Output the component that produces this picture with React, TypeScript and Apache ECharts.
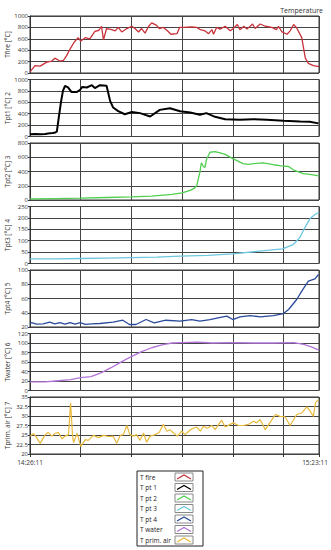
import React, { useEffect, useRef } from 'react';
import * as echarts from 'echarts';

// time in minutes after 14:26:11
const fireTime = [0,1,2,3.3,4.3,4.9,5.9,6.6,7.2,7.9,8.7,9.5,10,10.9,11.8,12.8,13.6,14.1,14.5,15.1,16.1,16.8,17.4,18.1,19.1,20.1,20.7,21.4,22,22.7,23.4,24,24.9,25.5,26.3,27,27.8,29,29.5,30.3,31.9,32.9,33.6,34.5,35.2,35.9,36.2,36.8,37.5,38.5,39.5,40.1,40.9,41.4,42.2,42.8,43.9,44.4,45.4,46.4,47.7,48.6,49,49.7,50.7,51.3,52,52.6,53.6,54.3,54.9,55.9,57];
const fireTemp = [20,130,120,190,210,260,210,220,300,420,540,620,560,620,600,730,750,820,580,780,760,740,800,720,780,820,780,720,780,700,820,880,840,780,800,750,680,690,800,800,810,800,760,740,690,760,680,800,770,820,740,780,850,760,820,770,860,780,860,820,800,760,820,720,680,740,850,790,620,260,170,130,110];

const pt1Time = [0,1,2,3,3.9,4.5,5,5.3,5.7,6.1,6.5,6.9,7.5,8.2,9.2,9.9,10.3,11.2,12.2,12.8,13.8,15.1,15.8,16.4,17.4,18.7,20.1,21.7,23.7,25.6,27.6,29.6,31.6,33.5,34.8,36.5,38.5,41.4,44,46.7,50,53.3,55.2,56.9];
const pt1Temp = [40,45,40,45,55,60,70,90,350,600,800,890,860,780,780,820,870,860,900,850,900,890,625,508,445,390,430,410,350,467,497,444,420,380,410,345,303,292,303,292,275,262,257,230];

const pt2Time = [0,5,10,15,20,24,28,30,31.6,32.5,32.9,33.5,33.8,34.2,34.5,34.8,35.5,36.5,37.5,38.5,40,42,43,44.6,46,48,49.6,51,52,53.9,55.5,57];
const pt2Temp = [15,20,25,35,45,55,80,100,136,170,205,387,523,470,455,568,670,680,660,640,580,510,500,515,520,495,480,470,420,370,355,340];

const pt3Time = [0,5,10,15,20,25,29.6,35,40,45.2,49.8,51.9,53.2,54.2,55.2,56.2,57];
const pt3Temp = [20,20,22,24,26,28,32,36,42,54,64,83,113,157,196,215,225];

const pt4Time = [0,0.3,1.3,2.6,3.9,4.9,5.9,6.9,7.9,8.9,9.9,10.9,12.2,13.8,16.4,18.3,19.6,20.9,22.9,24.5,26.8,29.6,31.9,33.5,35.5,37.1,38.8,40,41.4,43.4,45.4,48,50,51,52.6,53.6,54.9,56.2,56.9];
const pt4Temp = [25,26,24,24.5,27,24.5,26,24,26,24,26,23.6,24.5,24.9,26.7,29.5,23.5,23.5,30.5,25.9,29.5,28.2,30.5,28.2,30.5,32.9,35.2,30.5,34.3,36.1,34.3,36.1,38.9,44.6,58.6,70.3,84.3,87.6,93.7];

const waterTime = [0,3,5,8,10,12,14,16,17.5,19,20.5,22,24,26,28,30,33,36,40,44,48,52,54,55.5,57];
const waterTemp = [18,18,20,23,27,29,37,48,57,66,74,82,90,96,100,101,102,100,101,100,100,101,97,92,85];

const airTime = [0,0.7,1.3,2,3,3.6,4.3,4.9,5.6,6.3,6.9,7.6,8,8.4,8.6,9.3,10,10.9,11.5,12.5,13.5,14.5,15.5,16.4,17.1,17.8,18.4,19.1,19.7,20.4,21,21.7,22.4,23,23.7,24.7,25.5,26.3,27,27.6,28.4,29.1,29.9,30.6,31.3,31.9,32.9,33.6,34.2,34.9,35.9,36.5,37.2,37.8,38.5,39.5,40.1,41.1,42.1,43.1,44.1,44.7,45.4,46.4,47.4,48.4,49.3,50.3,51.3,52.6,53.6,54.6,55.3,55.9,56.3,56.9];
const airTemp = [24.7,25.4,24.3,22.8,25.1,25.7,24.7,25.4,25.7,24,24.7,25.1,33.5,24.7,23,25.5,22,23.8,23.6,24.9,24.3,24.9,24.6,24.7,22.8,24.9,25.1,27.5,25.1,24.7,25.1,23.6,25.5,23.1,24.7,25.1,25.7,27.8,26,26.4,25.4,24.7,26,25.1,26,26.6,27.1,26,27.3,26.8,27.5,26.4,27.8,28.9,27.1,27.8,28.2,27.5,27.5,27.8,28.6,28.2,29.1,26.4,28.4,30.4,29.9,29.8,27.5,30.4,30.8,32.4,31.2,29.9,33.5,34.3];

const startLabel = '14:26:11';
const endLabel = '15:23:11';
const totalMinutes = 57;

const axisNames = ['Tfire [°C]', 'Tpt1 [°C] 2', 'Tpt2 [°C] 3', 'Tpt3 [°C] 4', 'Tpt4 [°C] 5', 'Twater [°C] 6', 'Tprim. air [°C] 7'];
const legendNames = ['T fire', 'T pt 1', 'T pt 2', 'T pt 3', 'T pt 4', 'T water', 'T prim. air'];
const yMin = [0, 0, 0, 0, 20, 0, 20];
const yMax = [1000, 1000, 800, 250, 100, 120, 35];
const yStep = [200, 200, 200, 50, 20, 20, 2.5];
const seriesTimes = [fireTime, pt1Time, pt2Time, pt3Time, pt4Time, waterTime, airTime];
const seriesTemps = [fireTemp, pt1Temp, pt2Temp, pt3Temp, pt4Temp, waterTemp, airTemp];

const colors = ['#c8323a', '#000000', '#4fd04f', '#6cc6de', '#2a4b9b', '#b274d8', '#e8b93a'];
const widths = [1.3, 2, 1.3, 1.3, 1.3, 1.3, 1.2];

const FONT = "'Open Sans', 'Noto Sans', sans-serif";
const TXT = '#333';

export default function App() {
  const ref = useRef<HTMLDivElement>(null);
  useEffect(() => {
    document.body.style.margin = '0';
    const chart = echarts.init(ref.current as HTMLDivElement, null, { renderer: 'svg', width: 331, height: 550 });
    const n = axisNames.length;
    const PL = 30, PR = 12, T0 = 16, PITCH = 63.5, H = 57;
    const grid = axisNames.map((_, i) => ({
      left: PL, right: PR, top: T0 + i * PITCH, height: H,
      containLabel: false, outerBoundsMode: 'none',
      show: true, borderColor: '#333', borderWidth: 1, backgroundColor: 'transparent',
    }));
    const xAxis = axisNames.map((_, i) => ({
      type: 'value', gridIndex: i, min: 0, max: totalMinutes, interval: 10,
      axisLine: { show: false },
      axisTick: { show: i === n - 1, length: 3, lineStyle: { color: '#333' } },
      axisLabel: {
        show: i === n - 1, showMinLabel: true, showMaxLabel: true,
        fontSize: 6.5, lineHeight: 8, color: TXT, fontFamily: FONT, margin: 4,
        formatter: (v: number) => (v === 0 ? startLabel : v === totalMinutes ? '{r|' + endLabel + '}' : ''),
        rich: { r: { fontSize: 6.5, color: TXT, fontFamily: FONT, padding: [0, 8, 0, 0] } },
      },
      splitLine: { show: true, lineStyle: { color: '#444', width: 1 } },
    }));
    const yAxis = axisNames.map((name, i) => ({
      type: 'value', gridIndex: i, min: yMin[i], max: yMax[i], interval: yStep[i],
      name, nameLocation: 'middle', nameGap: 19, nameRotate: 90, nameMoveOverlap: false,
      nameTextStyle: { fontSize: 6.5, color: TXT, fontFamily: FONT },
      axisLine: { show: true, lineStyle: { color: '#333' } },
      axisTick: { show: true, length: 2, lineStyle: { color: '#333' } },
      axisLabel: { fontSize: 6, lineHeight: 6, color: TXT, fontFamily: FONT, margin: 2, formatter: (v: number) => String(v) },
      splitLine: { show: true, lineStyle: { color: '#444', width: 1 } },
    }));
    const series = axisNames.map((_, i) => ({
      type: 'line', name: legendNames[i], xAxisIndex: i, yAxisIndex: i,
      showSymbol: false, symbol: 'none',
      lineStyle: { color: colors[i], width: widths[i] },
      itemStyle: { color: colors[i] },
      data: seriesTimes[i].map((t, k) => [t, seriesTemps[i][k]]),
      z: 3,
    }));

    const LX = 137, LY = 471, LW = 66, LH = 75, ROW = 10.5;
    const legendEls: any[] = [
      { type: 'rect', shape: { x: LX, y: LY, width: LW, height: LH }, style: { fill: '#fff', stroke: '#222', lineWidth: 1 } },
    ];
    legendNames.forEach((nm, i) => {
      const cy = LY + 6 + i * ROW;
      legendEls.push({ type: 'text', x: LX + 3, y: cy, style: { text: nm, fontSize: 6.5, fill: '#222', fontFamily: FONT, verticalAlign: 'middle', align: 'left' } });
      legendEls.push({ type: 'rect', shape: { x: 175, y: cy - 4, width: 18, height: 8 }, style: { fill: '#fff', stroke: '#888', lineWidth: 1 } });
      legendEls.push({ type: 'polyline', shape: { points: [[177, cy + 2], [184, cy - 2], [191, cy + 2]] }, style: { stroke: colors[i], lineWidth: 1.3, fill: 'none' } });
    });

    chart.setOption({
      animation: false,
      backgroundColor: '#fff',
      title: { text: 'Temperature', right: 3, top: 2, textStyle: { fontSize: 7, fontWeight: 'normal', color: TXT, fontFamily: FONT } },
      grid, xAxis, yAxis, series,
      graphic: legendEls,
    });
    return () => chart.dispose();
  }, []);
  return <div ref={ref} style={{ position: 'absolute', left: 0, top: 0, width: 331, height: 550 }} />;
}
